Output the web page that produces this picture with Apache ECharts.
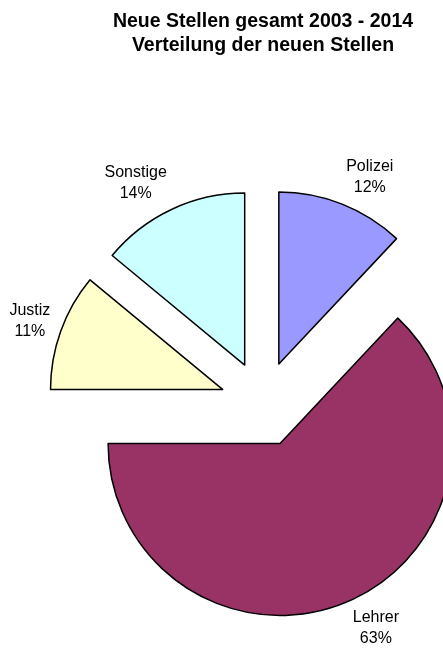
<!DOCTYPE html>
<html>
<head>
<meta charset="utf-8">
<script src="https://cdn.jsdelivr.net/npm/echarts@6/dist/echarts.min.js"></script>
<style>
html,body{margin:0;padding:0;background:#fff;}
#main{width:443px;height:650px;}
</style>
</head>
<body>
<div id="main"></div>
<script>
var categories = ['Polizei', 'Lehrer', 'Justiz', 'Sonstige'];
var values = [12, 63, 11, 14];
var palette = ['#9999FF', '#993366', '#FFFFCC', '#CCFFFF'];

// mid angle of every slice (clockwise from 12 o'clock), used to push labels outwards
var total = 0;
for (var i = 0; i < values.length; i++) total += values[i];
var midAngles = [];
var acc = 0;
for (var i = 0; i < values.length; i++) {
	midAngles.push((acc + values[i] / 2) / total * Math.PI * 2);
	acc += values[i];
}

var pieData = [];
for (var i = 0; i < categories.length; i++) {
	pieData.push({name: categories[i], value: values[i], selected: true});
}

var chart = echarts.init(document.getElementById('main'));
chart.setOption({
	animation: false,
	color: palette,
	title: {
		text: 'Neue Stellen gesamt 2003 - 2014\nVerteilung der neuen Stellen',
		left: 263,
		top: 10,
		padding: 0,
		textAlign: 'center',
		textStyle: {fontFamily: 'Liberation Sans', fontSize: 19.5, fontWeight: 'bold', lineHeight: 24, color: '#000'}
	},
	series: [{
		type: 'pie',
		center: [263, 404],
		radius: 172,
		startAngle: 90,
		clockwise: true,
		selectedMode: 'multiple',
		selectedOffset: 43,
		avoidLabelOverlap: false,
		emphasis: {disabled: true},
		itemStyle: {borderColor: '#000', borderWidth: 1.5},
		select: {itemStyle: {borderColor: '#000', borderWidth: 1.5}},
		label: {
			show: true,
			position: 'outside',
			distanceToLabelLine: 0,
			formatter: function (p) {
				return '{t|' + p.name + '}\n{t|' + p.percent + '%}';
			},
			rich: {
				t: {align: 'center', fontFamily: 'Liberation Sans', fontSize: 16, lineHeight: 21, color: '#000'}
			}
		},
		labelLine: {show: false, length: 11, length2: 0},
		labelLayout: function (p) {
			return {dy: -Math.cos(midAngles[p.dataIndex]) * p.labelRect.height / 2};
		},
		data: pieData
	}]
});
</script>
</body>
</html>
